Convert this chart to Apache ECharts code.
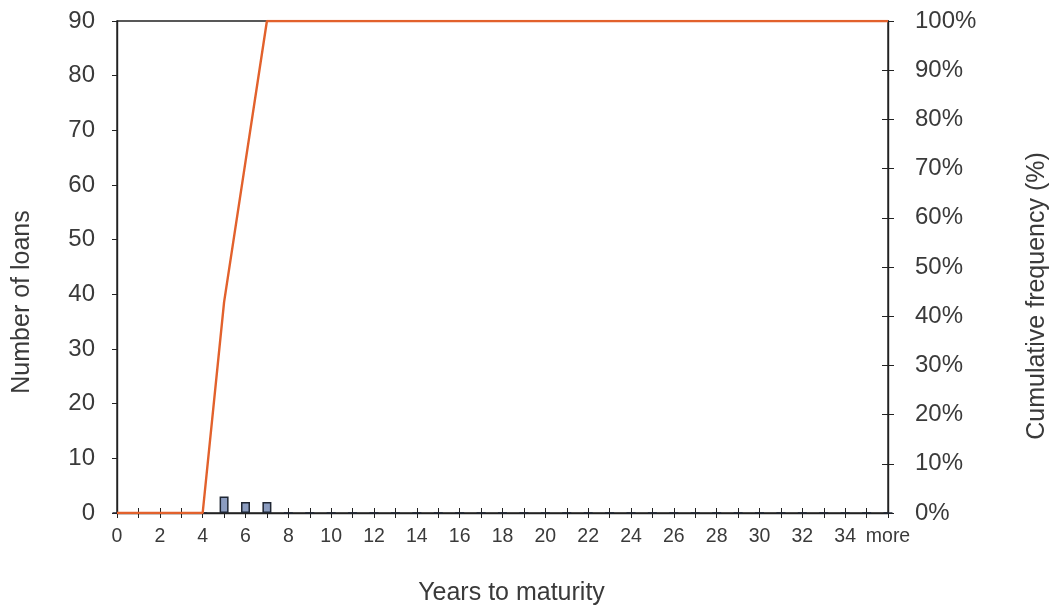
<!DOCTYPE html>
<html>
<head>
<meta charset="utf-8">
<script src="https://cdn.jsdelivr.net/npm/echarts@6/dist/echarts.min.js"></script>
<style>
  html, body { margin: 0; padding: 0; background: #ffffff; }
  #chart { width: 1049px; height: 607px; }
</style>
</head>
<body>
<div id="chart"></div>
<script>
// Years-to-maturity buckets: 0..35 plus an overflow bucket
const categories = ['0','1','2','3','4','5','6','7','8','9','10','11','12','13','14','15','16','17',
  '18','19','20','21','22','23','24','25','26','27','28','29','30','31','32','33','34','35','more'];
// Number of loans per bucket
const loanCounts = [0,0,0,0,0,3,2,2,0,0,0,0,0,0,0,0,0,0,0,0,0,0,0,0,0,0,0,0,0,0,0,0,0,0,0,0,0];
// Cumulative frequency (%)
const cumulativePct = [0,0,0,0,0,42.86,71.43,100,100,100,100,100,100,100,100,100,100,100,
  100,100,100,100,100,100,100,100,100,100,100,100,100,100,100,100,100,100,100];

const FONT = 'Liberation Sans';
const TXT = '#3a3a3a';
const AX = '#222222';

const chart = echarts.init(document.getElementById('chart'), null, { renderer: 'canvas' });

chart.setOption({
  animation: false,
  backgroundColor: '#ffffff',
  textStyle: { fontFamily: FONT },
  grid: {
    left: 117, right: 161, top: 21, bottom: 94,
    containLabel: false,
    outerBoundsMode: 'none',
    show: true, borderColor: AX, borderWidth: 1.4, backgroundColor: 'transparent'
  },
  xAxis: [
    {
      type: 'category',
      data: categories,
      boundaryGap: false,
      name: 'Years to maturity',
      nameLocation: 'middle',
      nameGap: 68,
      nameTextStyle: { color: TXT, fontSize: 25, fontFamily: FONT, padding: [0, 0, 0, 18] },
      axisLine: { show: true, lineStyle: { color: AX, width: 1.4 } },
      axisTick: { show: true, inside: false, length: 5, interval: 0, lineStyle: { color: AX } },
      axisLabel: { interval: 1, color: TXT, fontSize: 19.5, margin: 14, fontFamily: FONT },
      splitLine: { show: false }
    },
    {
      // upper halves of the crossing ticks
      type: 'category',
      data: categories,
      boundaryGap: false,
      position: 'bottom',
      axisLine: { show: false },
      axisTick: { show: true, inside: true, length: 5, interval: 0, lineStyle: { color: AX } },
      axisLabel: { show: false },
      splitLine: { show: false }
    }
  ],
  yAxis: [
    {
      type: 'value',
      min: 0, max: 90, interval: 10,
      name: 'Number of loans',
      nameLocation: 'middle',
      nameGap: 82,
      nameRotate: 90,
      nameTextStyle: { color: TXT, fontSize: 25, fontFamily: FONT, padding: [0, 70, 0, 0] },
      axisLine: { show: true, lineStyle: { color: AX, width: 1.4 } },
      axisTick: { show: true, length: 5, lineStyle: { color: AX } },
      axisLabel: { color: TXT, fontSize: 24, margin: 22, fontFamily: FONT },
      splitLine: { show: false }
    },
    {
      type: 'value',
      min: 0, max: 100, interval: 10,
      position: 'right',
      name: 'Cumulative frequency (%)',
      nameLocation: 'middle',
      nameGap: 137,
      nameRotate: 90,
      nameTextStyle: { color: TXT, fontSize: 25, fontFamily: FONT, padding: [0, 58, 0, 0] },
      axisLine: { show: true, lineStyle: { color: AX, width: 1.4 } },
      axisTick: { show: true, length: 6, lineStyle: { color: AX } },
      axisLabel: { color: TXT, fontSize: 24, margin: 27, fontFamily: FONT, formatter: '{value}%' },
      splitLine: { show: false }
    },
    {
      // inner halves of the right-hand crossing ticks
      type: 'value',
      min: 0, max: 100, interval: 10,
      position: 'right',
      axisLine: { show: false },
      axisTick: { show: true, inside: true, length: 6, lineStyle: { color: AX } },
      axisLabel: { show: false },
      splitLine: { show: false }
    }
  ],
  series: [
    {
      name: 'Number of loans',
      type: 'bar',
      xAxisIndex: 0,
      yAxisIndex: 0,
      data: loanCounts,
      barWidth: 9,
      itemStyle: { color: '#8b9cc0', borderColor: '#1f2633', borderWidth: 1.5 },
      z: 3
    },
    {
      name: 'Cumulative frequency',
      type: 'line',
      xAxisIndex: 0,
      yAxisIndex: 1,
      data: cumulativePct,
      symbol: 'none',
      lineStyle: { color: '#e2612c', width: 2.4 },
      z: 4
    }
  ]
});
</script>
</body>
</html>
